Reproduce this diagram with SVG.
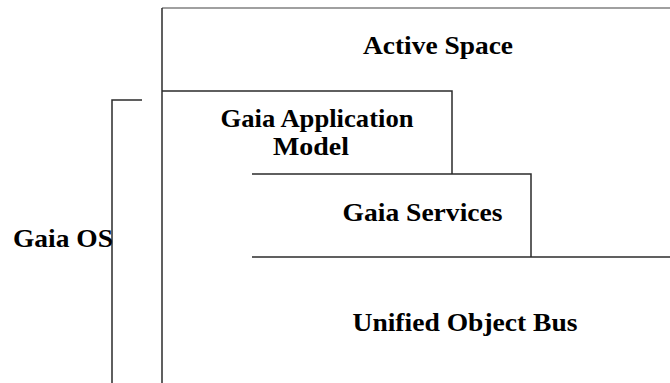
<svg xmlns="http://www.w3.org/2000/svg" width="670" height="383" viewBox="0 0 670 383">
  <style>
    .edge { fill: none; stroke: #2b2b2b; stroke-width: 1.5; }
    .top { stroke: #808080; }
    .label { font-family: 'Liberation Serif', 'Times New Roman', serif; font-weight: bold; font-size: 26px; fill: #000; text-anchor: middle; }
  </style>
  <rect width="670" height="383" fill="#fff"/>

  <g id="connectors">
    <!-- Gaia OS bracket -->
    <path class="edge" d="M142,100 H112 V383"/>
  </g>

  <g id="active-space">
    <path class="edge top" d="M162,8 H670"/>
    <path class="edge" d="M162,8 V383"/>
    <text class="label" x="438" y="54" textLength="150" lengthAdjust="spacingAndGlyphs">Active Space</text>
  </g>

  <g id="gaia-application-model">
    <path class="edge" d="M162,91 H452 V174"/>
    <text class="label" x="317" y="127" textLength="193" lengthAdjust="spacingAndGlyphs">Gaia Application</text>
    <text class="label" x="311" y="155" textLength="76" lengthAdjust="spacingAndGlyphs">Model</text>
  </g>

  <g id="gaia-services">
    <path class="edge" d="M252,174 H531 V257"/>
    <text class="label" x="422.5" y="221" textLength="160" lengthAdjust="spacingAndGlyphs">Gaia Services</text>
  </g>

  <g id="unified-object-bus">
    <path class="edge" d="M252,257 H670"/>
    <text class="label" x="465" y="331" textLength="225" lengthAdjust="spacingAndGlyphs">Unified Object Bus</text>
  </g>

  <g id="gaia-os">
    <text class="label" x="63" y="247" textLength="100" lengthAdjust="spacingAndGlyphs">Gaia OS</text>
  </g>
</svg>
